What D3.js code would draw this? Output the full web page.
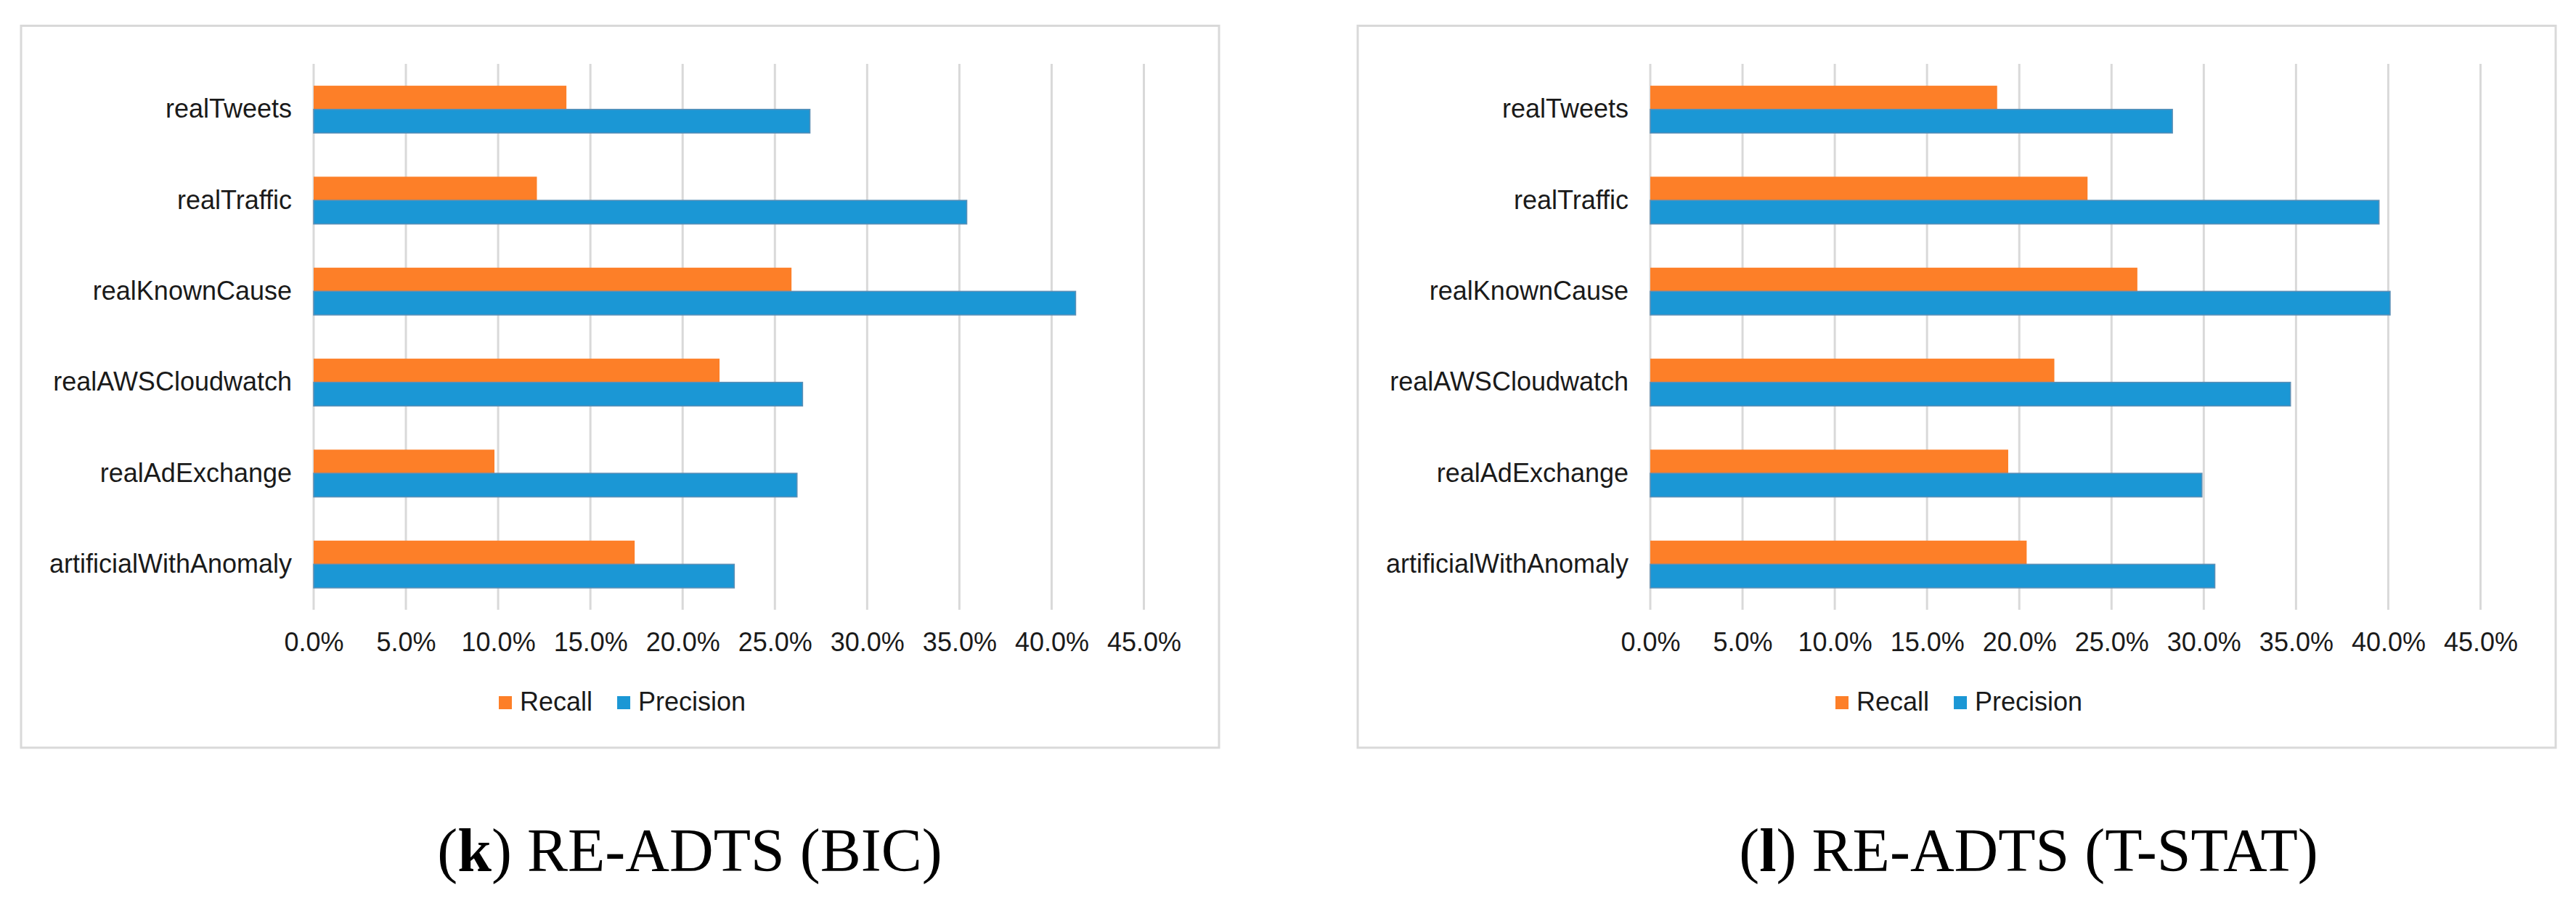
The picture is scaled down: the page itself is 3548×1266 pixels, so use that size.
<!DOCTYPE html>
<html>
<head>
<meta charset="utf-8">
<script src="https://cdn.jsdelivr.net/npm/d3@7"></script>
<style>
  body { margin: 0; background: #fff; }
  text { font-family: "Liberation Sans", Arial, sans-serif; }
  .caption { font-family: "Liberation Serif", "Times New Roman", serif; }
</style>
</head>
<body>
<svg id="chart"></svg>
<script>
// categories, top to bottom as drawn
const categories = [
  "realTweets",
  "realTraffic",
  "realKnownCause",
  "realAWSCloudwatch",
  "realAdExchange",
  "artificialWithAnomaly"
];

// (k) RE-ADTS (BIC)
const bicRecall = [0.137, 0.121, 0.259, 0.220, 0.098, 0.174];
const bicPrecision = [0.269, 0.354, 0.413, 0.265, 0.262, 0.228];

// (l) RE-ADTS (T-STAT)
const tstatRecall = [0.188, 0.237, 0.264, 0.219, 0.194, 0.204];
const tstatPrecision = [0.283, 0.395, 0.401, 0.347, 0.299, 0.306];

const tickValues = [0, 0.05, 0.10, 0.15, 0.20, 0.25, 0.30, 0.35, 0.40, 0.45];
const seriesNames = ["Recall", "Precision"];
const seriesColors = ["#fd7f28", "#1b97d5"];

const width = 3548;
const height = 1266;

const svg = d3.select("#chart")
  .attr("width", width)
  .attr("height", height);

function drawPanel(offsetX, recall, precision, label, title, captionX) {
  const g = svg.append("g")
    .attr("transform", "translate(" + offsetX + ",0)");

  // frame
  g.append("rect")
    .attr("x", 29)
    .attr("y", 35.5)
    .attr("width", 1650)
    .attr("height", 994.5)
    .attr("fill", "#fff")
    .attr("stroke", "#d9d9d9")
    .attr("stroke-width", 3);

  const x = d3.scaleLinear()
    .domain([0, 0.45])
    .range([432, 1575.5]);

  const y = d3.scaleBand()
    .domain(categories)
    .range([88, 840])
    .paddingInner(0.48)
    .paddingOuter(0.24);

  const sub = d3.scaleBand()
    .domain(seriesNames)
    .range([0, y.bandwidth()]);

  // grid lines
  g.append("g")
    .selectAll("line")
    .data(tickValues)
    .join("line")
    .attr("x1", d => x(d))
    .attr("x2", d => x(d))
    .attr("y1", 88)
    .attr("y2", 840)
    .attr("stroke", "#d9d9d9")
    .attr("stroke-width", 3);

  // x axis labels
  const xAxis = g.append("g")
    .attr("transform", "translate(0,870)")
    .call(d3.axisBottom(x)
      .tickValues(tickValues)
      .tickFormat(d3.format(".1%"))
      .tickSize(0)
      .tickPadding(0));
  xAxis.select(".domain").remove();
  xAxis.selectAll("text")
    .attr("dy", "0.75em")
    .attr("font-size", 36)
    .attr("font-family", "Liberation Sans, Arial, sans-serif")
    .attr("fill", "#1a1a1a");

  // y axis labels
  const yAxis = g.append("g")
    .attr("transform", "translate(432,0)")
    .call(d3.axisLeft(y).tickSize(0).tickPadding(30));
  yAxis.select(".domain").remove();
  yAxis.selectAll("text")
    .attr("font-size", 36)
    .attr("font-family", "Liberation Sans, Arial, sans-serif")
    .attr("fill", "#1a1a1a");

  // bars
  const rows = categories.map((c, i) => ({ cat: c, values: [recall[i], precision[i]] }));

  const groups = g.append("g")
    .selectAll("g")
    .data(rows)
    .join("g")
    .attr("transform", d => "translate(0," + y(d.cat) + ")");

  groups.selectAll("rect")
    .data(d => d.values.map((v, j) => ({ name: seriesNames[j], value: v, j: j })))
    .join("rect")
    .attr("x", x(0))
    .attr("y", d => sub(d.name))
    .attr("width", d => x(d.value) - x(0))
    .attr("height", sub.bandwidth())
    .attr("fill", d => seriesColors[d.j])
    .attr("stroke", d => d.j === 1 ? "#5b8fb6" : "none")
    .attr("stroke-width", 1.5);

  // legend
  const legend = g.append("g").attr("transform", "translate(687,959)");
  let lx = 0;
  seriesNames.forEach((name, j) => {
    legend.append("rect")
      .attr("x", lx)
      .attr("y", 0)
      .attr("width", 18)
      .attr("height", 18)
      .attr("fill", seriesColors[j]);
    const t = legend.append("text")
      .attr("x", lx + 29)
      .attr("y", 20)
      .attr("font-size", 36)
      .attr("fill", "#1a1a1a")
      .text(name);
    lx += 29 + t.node().getComputedTextLength() + 34;
  });

  // caption
  const cap = svg.append("text")
    .attr("class", "caption")
    .attr("x", captionX)
    .attr("y", 1200)
    .attr("text-anchor", "middle")
    .attr("font-size", 84)
    .attr("fill", "#000");
  cap.append("tspan").text("(");
  cap.append("tspan").attr("font-weight", "bold").text(label);
  cap.append("tspan").text(") " + title);
}

drawPanel(0, bicRecall, bicPrecision, "k", "RE-ADTS (BIC)", 950);
drawPanel(1841, tstatRecall, tstatPrecision, "l", "RE-ADTS (T-STAT)", 2794);
</script>
</body>
</html>
